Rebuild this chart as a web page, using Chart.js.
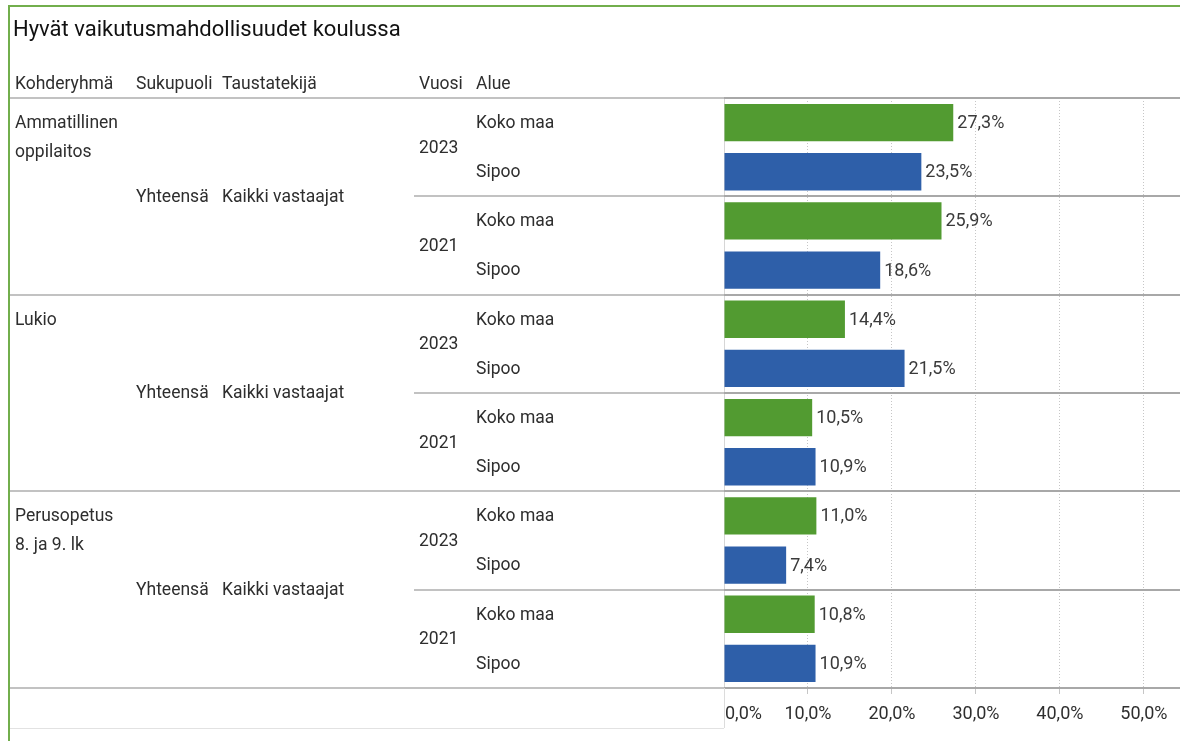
<!DOCTYPE html>
<html>
<head>
<meta charset="utf-8">
<script src="https://cdn.jsdelivr.net/npm/chart.js@4.4.1/dist/chart.umd.min.js"></script>
<style>
  html, body { margin: 0; padding: 0; background: #fff; }
  #wrap { position: relative; width: 1180px; height: 741px; overflow: hidden; }
  #frame {
    position: absolute; left: 8px; top: 5px; right: -10px; bottom: -10px;
    border-left: 2px solid #72ae4c; border-top: 2px solid #72ae4c;
  }
  #chart { position: absolute; left: 0; top: 0; }
</style>
</head>
<body>
<div id="wrap">
  <div id="frame"></div>
  <canvas id="chart" width="1180" height="741"></canvas>
</div>
<script>
// Data
const title = 'Hyvät vaikutusmahdollisuudet koulussa';
const headers = ['Kohderyhmä', 'Sukupuoli', 'Taustatekijä', 'Vuosi', 'Alue'];
const groups = [['Ammatillinen', 'oppilaitos'], ['Lukio'], ['Perusopetus', '8. ja 9. lk']];
const genderLabel = 'Yhteensä';
const backgroundLabel = 'Kaikki vastaajat';
const years = ['2023', '2021'];
const areas = ['Koko maa', 'Sipoo'];
// one value per group/year, in the order the groups and years appear
const kokoMaaValues = [27.3, 25.9, 14.4, 10.5, 11.0, 10.8];
const sipooValues = [23.5, 18.6, 21.5, 10.9, 7.4, 10.9];
const xTicks = [0, 10, 20, 30, 40, 50];

const areaColors = ['#529b31', '#2e5fa9'];
const FONT = 'Roboto, "Liberation Sans", Arial, sans-serif';
const textColor = '#2e2e2e';

// Flatten into one row per bar
const rows = [];
groups.forEach((g, gi) => {
  years.forEach((y, yi) => {
    const k = gi * years.length + yi;
    rows.push({ group: gi, year: yi, area: 0, value: kokoMaaValues[k] });
    rows.push({ group: gi, year: yi, area: 1, value: sipooValues[k] });
  });
});

const fmt = (v) => v.toFixed(1).replace('.', ',') + '%';

// column x positions for the table on the left
const colX = [15, 136, 222, 419, 476];

const tablePlugin = {
  id: 'tablePlugin',
  afterDatasetsDraw(chart) {
    const ctx = chart.ctx;
    const meta = chart.getDatasetMeta(0);
    ctx.save();
    ctx.font = '18px ' + FONT;
    ctx.fillStyle = '#3a3a3a';
    ctx.textBaseline = 'middle';
    ctx.textAlign = 'left';
    meta.data.forEach((bar, i) => {
      ctx.fillText(fmt(rows[i].value), bar.x + 4, bar.y + 1);
    });
    ctx.restore();
  },
  afterDraw(chart) {
    const ctx = chart.ctx;
    const area = chart.chartArea;
    const yScale = chart.scales.y;
    const xScale = chart.scales.x;
    const rowH = (area.bottom - area.top) / rows.length;
    const rowY = (i) => yScale.getPixelForValue(i);
    const perGroup = years.length * areas.length;

    ctx.save();
    // separators
    const hline = (y, x0, x1, color, w) => {
      ctx.strokeStyle = color;
      ctx.lineWidth = w;
      ctx.beginPath();
      ctx.moveTo(x0, y);
      ctx.lineTo(x1, y);
      ctx.stroke();
    };
    for (let i = 0; i <= rows.length; i += areas.length) {
      const y = Math.round(area.top + i * rowH);
      if (i % perGroup === 0) {
        hline(y, 10, area.left, '#c2c2c2', 2);
      } else {
        hline(y, 414, area.left, '#c2c2c2', 2);
      }
      hline(y, area.left, area.right, '#a8a8a8', 2);
    }
    // bottom light frame under the table
    hline(728.5, 10, area.left, '#e2e2e2', 1);
    ctx.strokeStyle = '#dcdcdc';
    ctx.lineWidth = 1;
    ctx.beginPath();
    ctx.moveTo(area.left + 0.5, area.bottom);
    ctx.lineTo(area.left + 0.5, 728);
    ctx.stroke();

    // header texts
    ctx.fillStyle = textColor;
    ctx.font = '17.5px ' + FONT;
    ctx.textBaseline = 'middle';
    ctx.textAlign = 'left';
    headers.forEach((h, i) => ctx.fillText(h, colX[i], area.top - 13));

    // table body
    groups.forEach((g, gi) => {
      const first = gi * perGroup;
      g.forEach((line, li) => ctx.fillText(line, colX[0], rowY(first) + 1 + li * 29));
      const mid = (rowY(first) + rowY(first + perGroup - 1)) / 2;
      ctx.fillText(genderLabel, colX[1], mid + 1);
      ctx.fillText(backgroundLabel, colX[2], mid + 1);
      years.forEach((yr, yi) => {
        const r0 = first + yi * areas.length;
        ctx.fillText(yr, colX[3], (rowY(r0) + rowY(r0 + areas.length - 1)) / 2 + 1);
        areas.forEach((a, ai) => ctx.fillText(a, colX[4], rowY(r0 + ai) + 1));
      });
    });

    // x tick labels
    ctx.font = '18px ' + FONT;
    ctx.fillStyle = textColor;
    xTicks.forEach((t, i) => {
      const x = xScale.getPixelForValue(t);
      ctx.textAlign = i === 0 ? 'left' : 'center';
      ctx.fillText(fmt(t), i === 0 ? x + 1 : x, 714);
    });
    ctx.restore();
  }
};

new Chart(document.getElementById('chart'), {
  type: 'bar',
  data: {
    labels: rows.map((r, i) => i),
    datasets: [{
      data: rows.map(r => r.value),
      backgroundColor: rows.map(r => areaColors[r.area]),
      borderWidth: 0,
      categoryPercentage: 1,
      barPercentage: 0.76
    }]
  },
  options: {
    indexAxis: 'y',
    responsive: false,
    animation: false,
    layout: { padding: { left: 13, right: 0, top: 0, bottom: 0 } },
    plugins: {
      legend: { display: false },
      tooltip: { enabled: false },
      title: {
        display: true,
        text: title,
        align: 'start',
        color: '#111111',
        font: { family: FONT, size: 22, weight: 'normal' },
        padding: { top: 17, bottom: 54.6 }
      }
    },
    scales: {
      x: {
        type: 'linear',
        min: 0,
        max: 54.3,
        afterFit: (scale) => { scale.height = 53; },
        ticks: { stepSize: 10, includeBounds: false, display: false },
        grid: {
          color: (c) => (c.tick && c.tick.value === 0) ? 'rgba(0,0,0,0)' : '#c6c6c6',
          lineWidth: 1,
          drawTicks: true,
          tickLength: 6
        },
        border: { display: false, dash: [1, 2] }
      },
      y: {
        type: 'category',
        afterFit: (scale) => { scale.width = 711; },
        ticks: { display: false },
        grid: { display: false, drawTicks: false },
        border: { display: true, color: '#d6d6d6', width: 1 }
      }
    }
  },
  plugins: [tablePlugin]
});
</script>
</body>
</html>
